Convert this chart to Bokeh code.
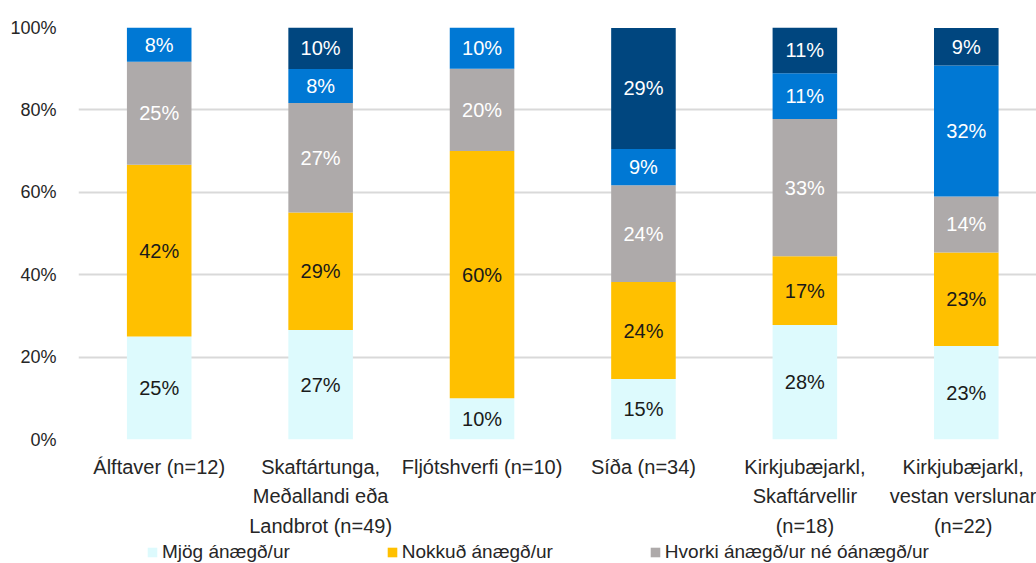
import numpy as np
from bokeh.plotting import figure
from bokeh.layouts import column
from bokeh.core.properties import value
from bokeh.models import ColumnDataSource, Range1d, FixedTicker, Legend, LegendItem, LabelSet
from bokeh.embed import file_html
from bokeh.resources import INLINE

categories = ["Álftaver (n=12)", "Skaftártunga,\nMeðallandi eða\nLandbrot (n=49)", "Fljótshverfi (n=10)",
              "Síða (n=34)", "Kirkjubæjarkl,\nSkaftárvellir\n(n=18)", "Kirkjubæjarkl,\nvestan verslunar\n(n=22)"]
series_names = ["Mjög ánægð/ur", "Nokkuð ánægð/ur", "Hvorki ánægð/ur né óánægð/ur",
                "Frekar óánægð/ur", "Mjög óánægð/ur"]
mjog_anaegd = [25.0, 26.6, 10.0, 14.7, 27.8, 22.7]
nokkud_anaegd = [41.7, 28.5, 60.0, 23.5, 16.7, 22.7]
hvorki = [25.0, 26.6, 20.0, 23.5, 33.3, 13.6]
frekar_oanaegd = [8.3, 8.2, 10.0, 8.8, 11.1, 31.8]
mjog_oanaegd = [0.0, 10.1, 0.0, 29.4, 11.1, 9.1]
y_ticks = [0, 20, 40, 60, 80, 100]

colors = ["#DDFAFD", "#FFC000", "#AEAAAA", "#0078D4", "#00467F"]
label_colors = ["#1a1a1a", "#1a1a1a", "#ffffff", "#ffffff", "#ffffff"]
FONT = "Liberation Sans"

series = [mjog_anaegd, nokkud_anaegd, hvorki, frekar_oanaegd, mjog_oanaegd]
xpos = np.arange(len(categories)) + 0.5

p = figure(width=1036, height=539, output_backend="svg", toolbar_location=None,
           x_range=Range1d(0, 5.935), y_range=Range1d(0, 100),
           min_border_left=78, min_border_right=0, min_border_top=27, min_border_bottom=99)
p.outline_line_color = None
p.xgrid.grid_line_color = None
p.ygrid.grid_line_color = "#D9D9D9"
p.ygrid.grid_line_width = 2
p.ygrid.ticker = FixedTicker(ticks=y_ticks)

bottom = np.zeros(len(categories))
for name, vals, col, lc in zip(series_names, series, colors, label_colors):
    vals = np.array(vals)
    top = bottom + vals
    src = ColumnDataSource(dict(x=xpos, bottom=bottom, top=top, mid=(bottom + top) / 2,
                                lab=[f"{int(v + 0.5)}%" if v > 0 else "" for v in vals]))
    p.vbar(x="x", bottom="bottom", top="top", width=0.4, fill_color=col, line_color=None, source=src)
    ls = LabelSet(x="x", y="mid", text="lab", source=src, text_align="center", text_baseline="middle",
                  text_color=lc, text_font=value(FONT), text_font_size="20px")
    p.add_layout(ls)
    bottom = top

p.yaxis.ticker = FixedTicker(ticks=y_ticks)
p.yaxis.major_label_overrides = {t: f"{t}%" for t in y_ticks}
p.yaxis.axis_line_color = None
p.yaxis.major_tick_line_color = None
p.yaxis.minor_tick_line_color = None
p.yaxis.major_label_text_font = FONT
p.yaxis.major_label_text_font_size = "18px"
p.yaxis.major_label_text_color = "#262626"
p.yaxis.major_label_standoff = 16

p.xaxis.ticker = FixedTicker(ticks=list(xpos))
p.xaxis.major_label_overrides = {float(x): c for x, c in zip(xpos, categories)}
p.xaxis.axis_line_color = None
p.xaxis.major_tick_line_color = None
p.xaxis.minor_tick_line_color = None
p.xaxis.major_label_text_font = FONT
p.xaxis.major_label_text_font_size = "20px"
p.xaxis.major_label_text_color = "#262626"
p.xaxis.major_label_text_line_height = 1.35
p.xaxis.major_label_standoff = 10

# legend strip
p2 = figure(width=1036, height=24, output_backend="svg", toolbar_location=None,
            x_range=Range1d(0, 1), y_range=Range1d(0, 1),
            min_border_left=0, min_border_right=0, min_border_top=0, min_border_bottom=0)
p2.axis.visible = False
p2.grid.visible = False
p2.outline_line_color = None
items = []
for i in range(3):
    src = ColumnDataSource(dict(x=[5.0], top=[series[i][0]]))
    r = p2.vbar(x="x", top="top", width=0.1, fill_color=colors[i], line_color=None, source=src)
    items.append(LegendItem(label=series_names[i], renderers=[r]))
legend = Legend(items=items, orientation="horizontal", location=(68, 0), border_line_color=None,
                background_fill_alpha=0, label_text_font=FONT, label_text_font_size="19px",
                label_text_color="#262626", glyph_width=12, glyph_height=12, spacing=96,
                padding=0, margin=0, label_standoff=4, label_height=20)
p2.add_layout(legend)

open("out.html", "w").write(file_html(column(p, p2, spacing=0), INLINE))
